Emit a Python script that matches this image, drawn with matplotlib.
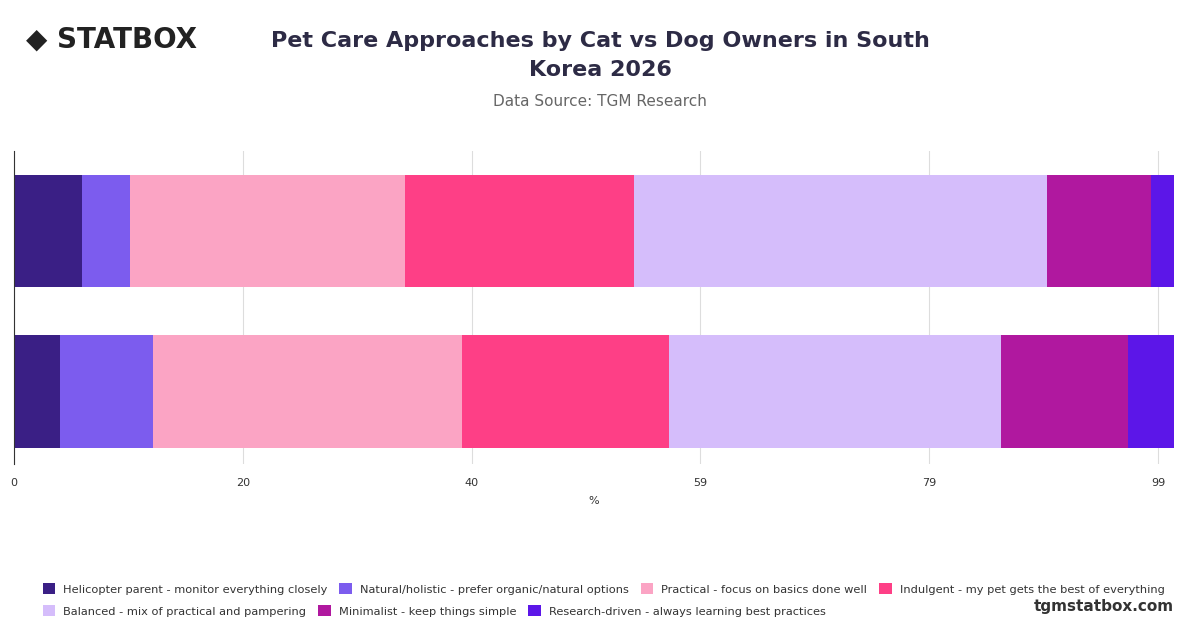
import matplotlib
matplotlib.use("Agg")
import matplotlib.pyplot as plt
from matplotlib.patches import Patch
import numpy as np

groups = ["Cat Owners", "Dog Owners"]
series = ["Helicopter parent - monitor everything closely",
          "Natural/holistic - prefer organic/natural options",
          "Practical - focus on basics done well",
          "Indulgent - my pet gets the best of everything",
          "Balanced - mix of practical and pampering",
          "Minimalist - keep things simple",
          "Research-driven - always learning best practices"]
cat_vals = [5.9, 4.1, 23.8, 19.9, 35.7, 9.0, 2.0]
dog_vals = [4.0, 8.0, 26.8, 17.9, 28.7, 11.0, 4.0]
colors = ["#3a1f85", "#7c5cee", "#fba4c4", "#fe3f86", "#d5bdfb", "#b0189f", "#5c16e8"]
ticks = [0, 19.8, 39.6, 59.4, 79.2, 99]
tick_labels = ["0", "20", "40", "59", "79", "99"]

fig = plt.figure(figsize=(12, 6.28), dpi=100)
ax = fig.add_axes([0.0117, 0.2616, 0.9667, 0.498])
vals = np.array([cat_vals, dog_vals])
ypos = [1, 0]
left = np.zeros(2)
for i, s in enumerate(series):
    ax.barh(ypos, vals[:, i], left=left, height=0.70, color=colors[i], label=s, zorder=2)
    left += vals[:, i]
ax.set_xlim(0, left.max())
ax.set_ylim(-0.45, 1.5)
ax.set_xticks(ticks)
ax.set_xticklabels(tick_labels, fontsize=8, color="#333")
ax.set_yticks([])
ax.tick_params(axis="x", length=0, pad=10)
ax.grid(axis="x", color="#dddddd", lw=0.8, zorder=0)
for sp in ["top", "right", "bottom"]:
    ax.spines[sp].set_visible(False)
ax.spines["left"].set_color("#333")
ax.set_xlabel("%", fontsize=8, color="#333", labelpad=6)

fig.text(0.5, 0.912, "Pet Care Approaches by Cat vs Dog Owners in South\nKorea 2026",
         ha="center", va="center", fontsize=16, fontweight="bold", color="#2d2b45", linespacing=1.55)
fig.text(0.5, 0.838, "Data Source: TGM Research", ha="center", va="center", fontsize=11, color="#666")
fig.text(0.022, 0.937, "◆ STATBOX", ha="left", va="center", fontsize=20, fontweight="bold", color="#222")
fig.text(0.978, 0.035, "tgmstatbox.com", ha="right", va="center", fontsize=11, fontweight="bold", color="#333")

handles = [Patch(facecolor=c, label=s) for c, s in zip(colors, series)]
kw = dict(frameon=False, fontsize=8.2, handlelength=1.1, handleheight=1.1,
          columnspacing=1.05, handletextpad=0.7, labelcolor="#333", loc="center left")
l1 = fig.legend(handles=handles[:4], ncol=4, bbox_to_anchor=(0.027, 0.062), **kw)
l2 = fig.legend(handles=handles[4:], ncol=3, bbox_to_anchor=(0.027, 0.027), **kw)
fig.savefig("out.png", dpi=100)
